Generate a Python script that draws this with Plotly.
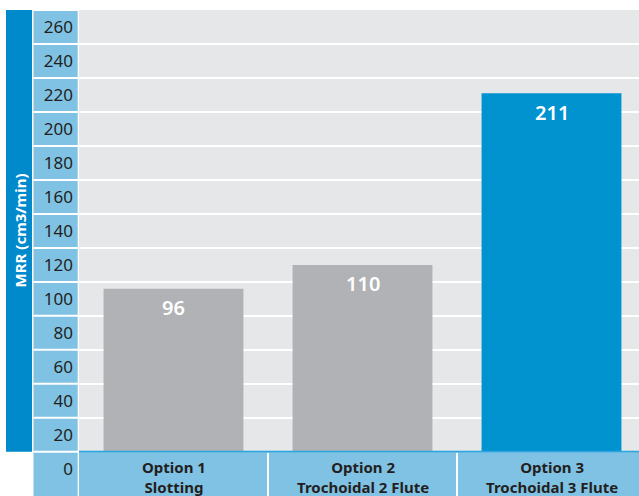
import plotly.graph_objects as go

categories = ["Option 1<br>Slotting", "Option 2<br>Trochoidal 2 Flute", "Option 3<br>Trochoidal 3 Flute"]
values = [96, 110, 211]
bar_colors = ["#B1B2B5", "#B1B2B5", "#0093D0"]
tick_values = list(range(0, 261, 20))
tick_labels = [str(v) for v in tick_values]
y_title = "MRR (cm3/min)"

DARK = "#0089CB"
LIGHT = "#80C2E4"
BG = "#E6E7E8"
TXT = "#231F20"
FONT = "Noto Sans"

W, H = 639, 496
L, T = 79, 10
PW = W - L


def px(xpix):
    return (xpix - L) / PW


fig = go.Figure()
fig.add_trace(go.Bar(
    x=categories, y=values, width=0.74,
    marker=dict(color=bar_colors, line=dict(width=0)),
    hoverinfo="skip",
))

shapes = []
shapes.append(dict(type="rect", xref="paper", yref="y", x0=px(6), x1=px(32),
                   y0=0, y1=260, fillcolor=DARK, line=dict(width=0), layer="below"))
shapes.append(dict(type="rect", xref="paper", yref="y", x0=px(33.5), x1=px(77.7),
                   y0=-40, y1=260, fillcolor=LIGHT, line=dict(width=0), layer="below"))
shapes.append(dict(type="rect", xref="paper", yref="y", x0=0, x1=1,
                   y0=-40, y1=0, fillcolor=LIGHT, line=dict(width=0), layer="below"))
for v in tick_values:
    shapes.append(dict(type="line", xref="paper", yref="y", x0=px(33.5), x1=px(78),
                       y0=v, y1=v, line=dict(color="white", width=2), layer="above"))
for i in range(len(categories) - 1):
    shapes.append(dict(type="line", xref="x", yref="y", x0=i + 0.5, x1=i + 0.5,
                       y0=-40, y1=0, line=dict(color="white", width=2), layer="above"))
shapes.append(dict(type="line", xref="paper", yref="y", x0=0, x1=1, y0=0, y1=0,
                   line=dict(color="#2FA3DC", width=2), layer="above"))

annotations = []
for c, v in zip(categories, values):
    annotations.append(dict(x=c, y=v, xref="x", yref="y", text=str(v), showarrow=False,
                            yanchor="middle", yshift=-19,
                            font=dict(family=FONT, size=20, color="white", weight=600)))
    annotations.append(dict(x=c, y=0, xref="x", yref="y", text="<b>" + c + "</b>", showarrow=False,
                            yanchor="top", yshift=-3,
                            font=dict(family=FONT, size=15, color=TXT)))
annotations.append(dict(x=px(19.5), y=130, xref="paper", yref="y", text="<b>" + y_title + "</b>",
                        showarrow=False, textangle=-90, xanchor="center", yanchor="middle",
                        font=dict(family=FONT, size=15, color="white")))

fig.update_layout(
    width=W, height=H,
    margin=dict(l=L, r=0, t=T, b=0, pad=0),
    paper_bgcolor="white", plot_bgcolor=BG,
    showlegend=False,
    bargap=0.26,
    shapes=shapes, annotations=annotations,
    font=dict(family=FONT, color=TXT),
)
fig.update_xaxes(type="category", range=[-0.5, -0.5 + PW / 189.0], showticklabels=False,
                 showgrid=False, zeroline=False, showline=False, fixedrange=True)
fig.update_yaxes(range=[-26, 260], tickvals=tick_values, ticktext=tick_labels,
                 ticklabelshift=17, ticklabelstandoff=5, ticks="",
                 showgrid=True, gridcolor="white", gridwidth=2,
                 zeroline=False, showline=False,
                 tickfont=dict(family=FONT, size=17, color=TXT), fixedrange=True)

fig.write_html("out.html")
